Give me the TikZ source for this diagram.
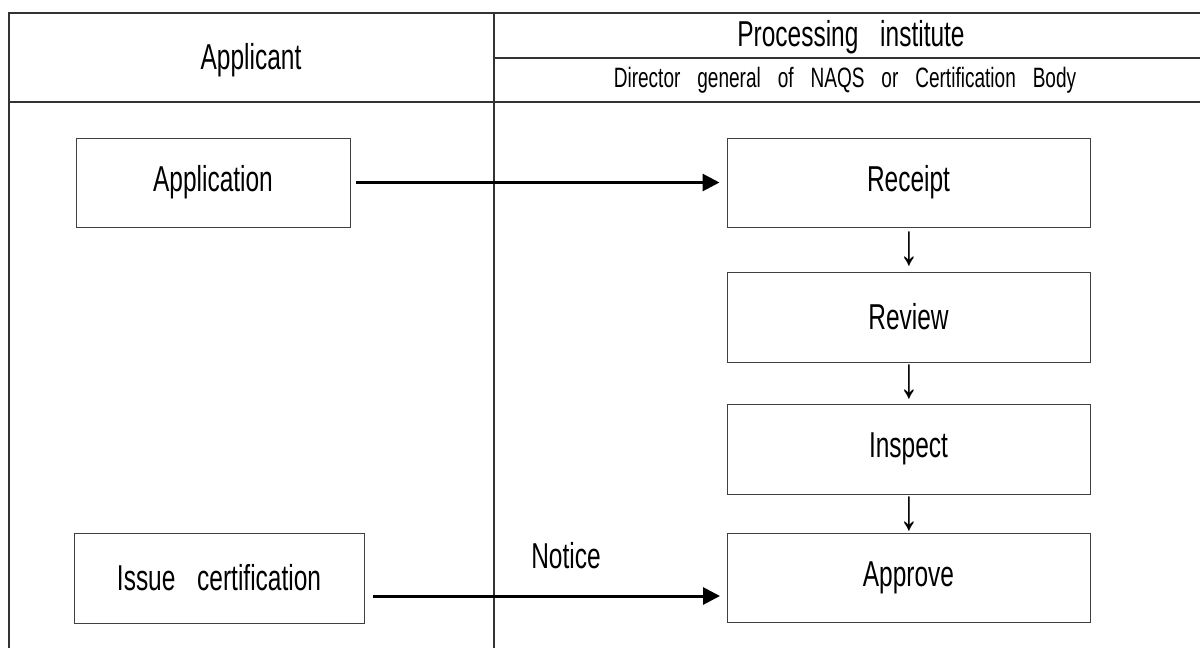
\documentclass[tikz,border=0pt]{standalone}
\usepackage{fontspec}
\setmainfont[FakeStretch=0.68,WordSpace=3.2]{Liberation Sans}
\usetikzlibrary{arrows.meta}
\begin{document}
\begin{tikzpicture}[x=1pt,y=-1pt,
  gridline/.style={draw=black!80,line width=1.1pt},
  procbox/.style={draw=black!75,line width=1pt,rectangle,inner sep=0pt,font=\fontsize{36}{40}\selectfont},
  bigtext/.style={font=\fontsize{36}{40}\selectfont,inner sep=0pt},
  smalltext/.style={font=\fontsize{28}{32}\selectfont,inner sep=0pt},
  flow/.style={line width=3pt,-{Triangle[length=17pt,width=17pt]}},
  downmark/.style={font=\fontsize{58}{62}\selectfont,inner sep=0pt}]
\useasboundingbox (0,0) rectangle (1200,648);
% table lines
\draw[gridline] (8,13) -- (1200,13);
\draw[gridline] (9,13) -- (9,648);
\draw[gridline] (494,13) -- (494,648);
\draw[gridline] (494,58) -- (1200,58);
\draw[gridline] (9,102) -- (1200,102);
% header texts
\node[bigtext] (hApp) at (251,60) {Applicant};
\node[bigtext] (hProc) at (851,37) {Processing institute};
\node[smalltext] (hDir) at (845,80) {Director general of NAQS or Certification Body};
% boxes
\node[procbox,minimum width=274pt,minimum height=89pt] (app) at (213,182.5) {\raisebox{-2pt}{Application}};
\node[procbox,minimum width=290pt,minimum height=90pt] (iss) at (219,578) {\raisebox{-2pt}{Issue certification}};
\node[procbox,minimum width=363pt,minimum height=89pt] (rec) at (908.5,182.5) {\raisebox{-2pt}{Receipt}};
\node[procbox,minimum width=363pt,minimum height=90pt] (rev) at (908.5,317) {\raisebox{-2pt}{Review}};
\node[procbox,minimum width=363pt,minimum height=90pt] (ins) at (908.5,449) {\raisebox{-2pt}{Inspect}};
\node[procbox,minimum width=363pt,minimum height=89pt] (apr) at (908.5,577.5) {\raisebox{-2pt}{Approve}};
% down marks
\node[downmark] (d1) at (909,249) {↓};
\node[downmark] (d2) at (909,382) {↓};
\node[downmark] (d3) at (909,514) {↓};
% arrows
\draw[flow] ([xshift=5pt]app.east) -- ([xshift=-7pt]app.east -| rec.west);
\coordinate (issout) at (373,596);
\coordinate (aprin) at (720,596);
\draw[flow] (issout) -- (aprin);
\node[bigtext] (notice) at (566,556) {Notice};
\end{tikzpicture}
\end{document}
